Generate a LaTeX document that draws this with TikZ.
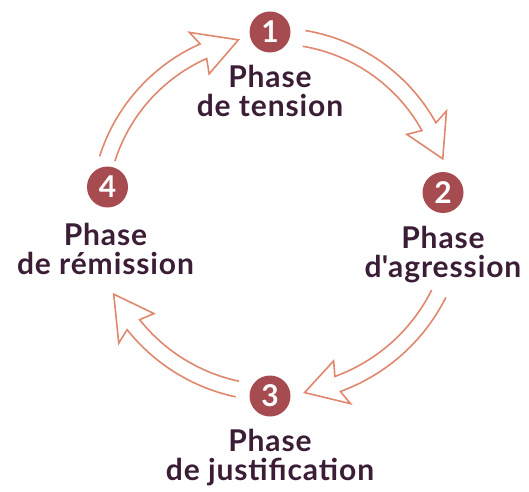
\documentclass[tikz,border=0pt]{standalone}
\usepackage{fontspec}
\setmainfont{Lato}[LetterSpace=3]
\usetikzlibrary{positioning}
\definecolor{plum}{HTML}{3B1E36}
\definecolor{brick}{HTML}{A64B4F}
\definecolor{salmon}{HTML}{E0876E}

\newcommand{\cyclearrow}[4]{%
	\pgfmathsetmacro\shaftout{#4+8}%
	\pgfmathsetmacro\shaftin{#4-8}%
	\pgfmathsetmacro\headout{#4+23}%
	\pgfmathsetmacro\headin{#4-23}%
	\draw[ringarrow] (#1:\shaftout pt) arc[start angle=#1, end angle=#2, radius=\shaftout pt]
		-- (#2+1.5:\headout pt) -- (#3:#4 pt) -- (#2+1.5:\headin pt)
		-- (#2:\shaftin pt) arc[start angle=#2, end angle=#1, radius=\shaftin pt];
}

\begin{document}
\begin{tikzpicture}[x=1pt,y=1pt]
			\tikzstyle{ringarrow}=[draw=salmon,line width=1.6pt,line join=miter]
			\tikzstyle{phasenum}=[circle,fill=brick,text=white,minimum size=41pt,inner sep=0pt,font=\fontsize{30}{29}\selectfont\bfseries]
			\tikzstyle{phaselabel}=[text=plum,inner sep=0pt,align=center,font=\fontsize{30}{29}\selectfont\bfseries]
			\useasboundingbox (0,0) rectangle (529,491);
			
			\node[phasenum] (n1) at (270,459) {1};
			\node[phasenum] (n2) at (443,298.5) {2};
			\node[phasenum] (n3) at (270,95) {3};
			\node[phasenum] (n4) at (107.5,304) {4};
			
			\node[phaselabel,below=12pt of n1] (tension) {Phase\\de tension};
			\node[phaselabel,below=13pt of n2] (agression) {Phase\\d\textquotesingle agression};
			\node[phaselabel,below=12pt of n3] (justification) {Phase\\de justification};
			\node[phaselabel,below=15pt of n4,xshift=-2pt] (remission) {Phase\\de rémission};
			
			\coordinate (centre) at (275,279);
			\begin{scope}[shift={(centre)}]
			\cyclearrow{80.5}{29}{17.6}{176}
			\cyclearrow{-26.5}{-70}{-80.7}{183}
			\cyclearrow{258}{218.5}{207}{181}
			\cyclearrow{162.4}{114}{102}{176}
			\end{scope}
\end{tikzpicture}
\end{document}
